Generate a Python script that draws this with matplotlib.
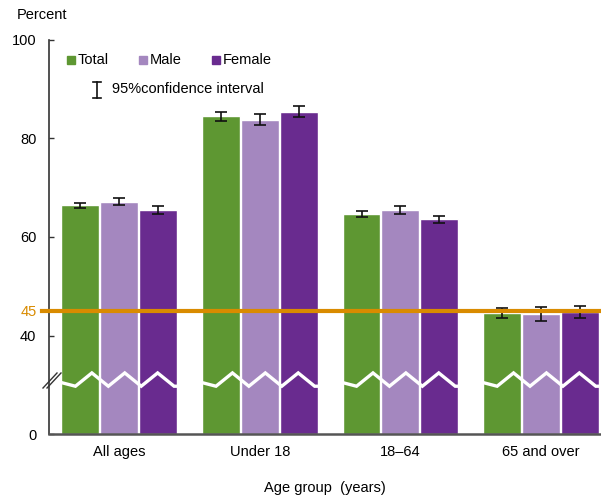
import matplotlib
matplotlib.use("Agg")
import matplotlib.pyplot as plt
import numpy as np
from matplotlib.lines import Line2D
from matplotlib.patches import Rectangle

plt.rcParams['font.family'] = ['Liberation Sans', 'DejaVu Sans']

# ---- data ----
groups = ["All ages", "Under 18", "18\u201364", "65 and over"]
series = ["Total", "Male", "Female"]
total = [66.4, 84.5, 64.7, 44.6]
male = [67.2, 83.8, 65.5, 44.3]
female = [65.5, 85.4, 63.6, 44.8]
total_ci = [0.6, 0.95, 0.6, 1.05]
male_ci = [0.7, 1.1, 0.8, 1.4]
female_ci = [0.75, 1.1, 0.75, 1.2]
target = 45
ytick_values = [0, 40, 60, 80, 100]

colors = ["#5e9732", "#a487bf", "#692b8f"]
orange = "#d98b00"

# broken axis: values >= 40 are drawn shifted down by 20
SHIFT = 20
def tf(v):
    v = np.asarray(v, dtype=float)
    return np.where(v >= 40, v - SHIFT, v)

W, H = 601, 495
fig = plt.figure(figsize=(W / 100, H / 100), dpi=100)
def fx(px):
    return px / W
def fy(py):
    return 1 - py / H

ax = fig.add_axes([fx(49), fy(434), (600 - 49) / W, (434 - 40) / H])
ax.set_ylim(0, 80)
ax.set_xlim(-0.5, 3.42)

x = np.arange(len(groups))
slot = 0.2766
bw = 0.27
vals = [total, male, female]
cis = [total_ci, male_ci, female_ci]
for i, (v, c, col) in enumerate(zip(vals, cis, colors)):
    xpos = x + (i - 1) * slot
    ax.bar(xpos, tf(v), width=bw, color=col, edgecolor="white", linewidth=1.0, zorder=2)
    ax.errorbar(xpos, tf(v), yerr=c, fmt="none", ecolor="#111111",
                elinewidth=1.2, capsize=4.5, capthick=1.2, zorder=4)

# zigzag break across each group of bars
half = 0.117
peak_y, valley_y = 12.4, 9.7
for g in x:
    left = g - 1.5 * slot + (slot - bw) / 2
    right = g + 1.5 * slot - (slot - bw) / 2
    xs = [left]
    ys = [peak_y - (peak_y - valley_y) * (0.085 / half)]
    k = 0
    xv = g - 0.312
    while xv <= right + 1e-6:
        xs.append(xv)
        ys.append(valley_y if k % 2 == 0 else peak_y)
        xv += half
        k += 1
    if xs[-1] < right:
        xs.append(right)
        ys.append(ys[-1])
    ax.plot(xs, ys, color="white", lw=2.4, zorder=3, solid_joinstyle="miter")

# target line
ax.plot([-0.0127, 1.0], [tf(target), tf(target)], color=orange, lw=3,
        transform=ax.get_yaxis_transform(), clip_on=False, zorder=5)

# axes styling
for s in ["top", "right"]:
    ax.spines[s].set_visible(False)
ax.spines["left"].set_color("#333333")
ax.spines["left"].set_linewidth(1.2)
ax.spines["bottom"].set_color("#555555")
ax.spines["bottom"].set_linewidth(1.8)

yt = list(tf(ytick_values)) + [float(tf(target))]
ytl = [str(v) for v in ytick_values] + [str(target)]
ax.set_yticks(yt)
ax.set_yticklabels(ytl, fontsize=10.5)
ax.tick_params(axis="y", direction="in", length=3.5, width=1, color="#333333", pad=9)
for lab in ax.get_yticklabels():
    if lab.get_text() == str(target):
        lab.set_color(orange)
ax.get_yaxis().get_major_ticks()[-1].tick1line.set_visible(False)

ax.set_xticks(x)
ax.set_xticklabels(groups, fontsize=10.5)
ax.tick_params(axis="x", length=0, pad=8)
ax.set_xlabel("Age group  (years)", fontsize=10.5, labelpad=16)

# y-axis break marks
for dx in (0, 4):
    fig.add_artist(Line2D([fx(43 + dx), fx(57 + dx)], [fy(388), fy(373)],
                          color="#333333", lw=1.0))

fig.text(fx(17), fy(15), "Percent", fontsize=10.5, va="center", ha="left")

# legend
leg_items = [(67, "Total"), (139, "Male"), (212, "Female")]
for (px, name), col in zip(leg_items, colors):
    fig.add_artist(Rectangle((fx(px), fy(64)), 8 / W, 8 / H, color=col,
                             transform=fig.transFigure))
    fig.text(fx(px + 11), fy(60), name, fontsize=10.5, va="center", ha="left")

# CI icon
fig.add_artist(Line2D([fx(97), fx(97)], [fy(82), fy(98)], color="#111111", lw=1.2))
for yy in (82, 98):
    fig.add_artist(Line2D([fx(93), fx(101)], [fy(yy), fy(yy)], color="#111111", lw=1.2))
fig.text(fx(112), fy(89), "95%confidence interval", fontsize=10.5, va="center", ha="left")

fig.savefig("out.png", dpi=100)
